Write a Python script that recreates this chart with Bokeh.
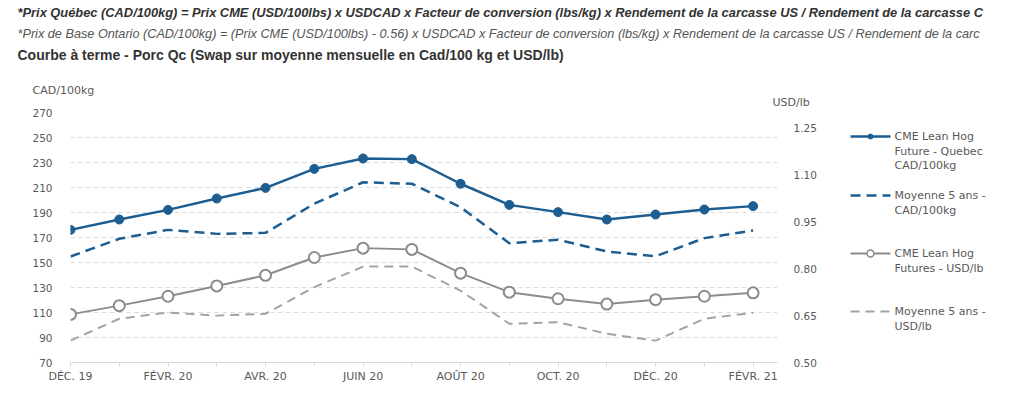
from bokeh.plotting import figure
from bokeh.layouts import column, row
from bokeh.models import Range1d, LinearAxis, FixedTicker, PrintfTickFormatter
from bokeh.core.properties import value
from bokeh.embed import file_html
from bokeh.resources import INLINE

# ---------------- data ----------------
MONTHS = ["DÉC. 19", "JANV. 20", "FÉVR. 20", "MARS 20", "AVR. 20", "MAI 20", "JUIN 20",
          "JUIL. 20", "AOÛT 20", "SEPT. 20", "OCT. 20", "NOV. 20", "DÉC. 20", "JANV. 21", "FÉVR. 21"]
qc_cad = [176.1, 184.4, 192.1, 201.2, 209.7, 224.9, 233.2, 232.7, 213.0, 196.1, 190.3, 184.4, 188.4, 192.4, 195.1]
avg5_cad = [154.8, 169.0, 176.1, 172.9, 173.7, 197.0, 214.2, 213.0, 194.2, 165.4, 168.2, 158.8, 155.0, 169.5, 175.6]
cme_usd = [0.654, 0.682, 0.712, 0.745, 0.779, 0.836, 0.866, 0.862, 0.786, 0.725, 0.704, 0.687, 0.701, 0.712, 0.723]
avg5_usd = [0.570, 0.640, 0.660, 0.650, 0.656, 0.741, 0.807, 0.807, 0.730, 0.624, 0.629, 0.592, 0.570, 0.640, 0.659]

LEFT_TICKS = [70, 90, 110, 130, 150, 170, 190, 210, 230, 250, 270]
RIGHT_TICKS = [0.50, 0.65, 0.80, 0.95, 1.10, 1.25]

HEADER = [
    "*Prix Québec (CAD/100kg) = Prix CME (USD/100lbs) x USDCAD x Facteur de conversion (lbs/kg) x Rendement de la carcasse US / Rendement de la carcasse C",
    "*Prix de Base Ontario (CAD/100kg) = (Prix CME (USD/100lbs) - 0.56) x USDCAD x Facteur de conversion (lbs/kg) x Rendement de la carcasse US / Rendement de la carc",
    "Courbe à terme - Porc Qc (Swap sur moyenne mensuelle en Cad/100 kg et USD/lb)",
]
LEFT_TITLE = "CAD/100kg"
RIGHT_TITLE = "USD/lb"
LEGEND = [
    ["CME Lean Hog", "Future - Quebec", "CAD/100kg"],
    ["Moyenne 5 ans -", "CAD/100kg"],
    ["CME Lean Hog", "Futures - USD/lb"],
    ["Moyenne 5 ans -", "USD/lb"],
]

# ---------------- styles ----------------
BLUE = "#1c5d92"
GREY = "#8c8c8c"
GREY_D = "#a3a3a3"
TXT = "#595959"
FONT = "DejaVu Sans"

xs = list(range(len(MONTHS)))

# ---------------- header (page coordinates) ----------------
HW, HH = 1000, 108
h = figure(width=HW, height=HH, x_range=Range1d(0, HW), y_range=Range1d(HH, 0),
           x_axis_type=None, y_axis_type=None, output_backend="svg", toolbar_location=None,
           min_border=0)
h.outline_line_color = None
h.grid.visible = False
h.text(x=[17], y=[12], text=[HEADER[0]], text_font=value("Liberation Sans"), text_font_style="bold italic",
       text_font_size="12.85px", text_color="#333333", text_baseline="middle")
h.text(x=[17], y=[33], text=[HEADER[1]], text_font=value("Liberation Sans"), text_font_style="italic",
       text_font_size="12.7px", text_color="#555555", text_baseline="middle")
h.text(x=[17], y=[54], text=[HEADER[2]], text_font=value("Liberation Sans"), text_font_style="bold",
       text_font_size="14px", text_color="#333333", text_baseline="middle")
h.text(x=[32], y=[90], text=[LEFT_TITLE], text_font=value(FONT), text_font_size="11px",
       text_color=TXT, text_baseline="middle")
h.text(x=[772], y=[102], text=[RIGHT_TITLE], text_font=value(FONT), text_font_size="11px",
       text_color=TXT, text_baseline="middle")

# ---------------- main chart ----------------
p = figure(width=845, height=282, x_range=Range1d(0, 14.5), y_range=Range1d(70, 270),
           output_backend="svg", toolbar_location=None,
           min_border_left=70, min_border_right=68, min_border_top=4, min_border_bottom=28)
p.outline_line_color = None
p.extra_y_ranges = {"usd": Range1d(0.5, 1.3)}

# x axis
p.xaxis.ticker = FixedTicker(ticks=xs)
p.xaxis.major_label_overrides = {i: (MONTHS[i] if i % 2 == 0 else "") for i in xs}
p.xaxis.axis_line_color = "#d9d9d9"
p.xaxis.major_tick_line_color = "#d9d9d9"
p.xaxis.major_tick_in = 0
p.xaxis.major_tick_out = 4
p.xaxis.minor_tick_line_color = None
p.xaxis.major_label_text_font = FONT
p.xaxis.major_label_text_font_size = "11px"
p.xaxis.major_label_text_color = TXT
p.xaxis.major_label_standoff = 3
p.xgrid.visible = False

# left axis
p.yaxis.ticker = FixedTicker(ticks=LEFT_TICKS)
p.yaxis.axis_line_color = None
p.yaxis.major_tick_line_color = None
p.yaxis.minor_tick_line_color = None
p.yaxis.major_label_text_font = FONT
p.yaxis.major_label_text_font_size = "10.5px"
p.yaxis.major_label_text_color = TXT
p.yaxis.major_label_standoff = 12
p.ygrid.ticker = FixedTicker(ticks=LEFT_TICKS[1:])
p.ygrid.grid_line_color = "#d9d9d9"
p.ygrid.grid_line_dash = "4 4"

# right axis
ra = LinearAxis(y_range_name="usd", ticker=FixedTicker(ticks=RIGHT_TICKS),
                formatter=PrintfTickFormatter(format="%.2f"))
ra.axis_line_color = None
ra.major_tick_line_color = None
ra.minor_tick_line_color = None
ra.major_label_text_font = FONT
ra.major_label_text_font_size = "10.5px"
ra.major_label_text_color = TXT
ra.major_label_standoff = 10
p.add_layout(ra, "right")

# series
p.line(xs, avg5_usd, y_range_name="usd", line_color=GREY_D, line_width=2, line_dash="9 6")
p.line(xs, cme_usd, y_range_name="usd", line_color=GREY, line_width=2)
p.scatter(xs, cme_usd, y_range_name="usd", size=11, marker="circle", fill_color="white",
          line_color=GREY, line_width=2)
p.line(xs, avg5_cad, line_color=BLUE, line_width=2.5, line_dash="10 6")
p.line(xs, qc_cad, line_color=BLUE, line_width=2.5)
p.scatter(xs, qc_cad, size=9, marker="circle", fill_color=BLUE, line_color=BLUE)

# ---------------- legend (page coordinates, frame aligned with chart frame) ----------------
LX0, LW = 845, 170
leg = figure(width=LW, height=282, x_range=Range1d(LX0, LX0 + LW), y_range=Range1d(362, 112),
             x_axis_type=None, y_axis_type=None, output_backend="svg", toolbar_location=None,
             min_border_left=0, min_border_right=0, min_border_top=4, min_border_bottom=28)
leg.outline_line_color = None
leg.grid.visible = False

item_y = [136, 195, 253, 311]
styles = [
    dict(color=BLUE, width=2.5, dash="solid", marker="fill"),
    dict(color=BLUE, width=2.5, dash="10 6", marker=None),
    dict(color=GREY, width=2, dash="solid", marker="hollow"),
    dict(color=GREY_D, width=2, dash="9 6", marker=None),
]
for yy, st, lines in zip(item_y, styles, LEGEND):
    leg.line([850, 890], [yy, yy], line_color=st["color"], line_width=st["width"], line_dash=st["dash"])
    if st["marker"] == "fill":
        leg.scatter([870], [yy], size=5, fill_color=st["color"], line_color=st["color"])
    elif st["marker"] == "hollow":
        leg.scatter([870], [yy], size=7, fill_color="white", line_color=st["color"], line_width=1.5)
    leg.text(x=[894] * len(lines), y=[yy + 14.5 * k for k in range(len(lines))], text=lines,
             text_font=value(FONT), text_font_size="11px", text_color=TXT, text_baseline="middle")

layout = column(h, row(p, leg))
open("out.html", "w").write(file_html(layout, INLINE))
